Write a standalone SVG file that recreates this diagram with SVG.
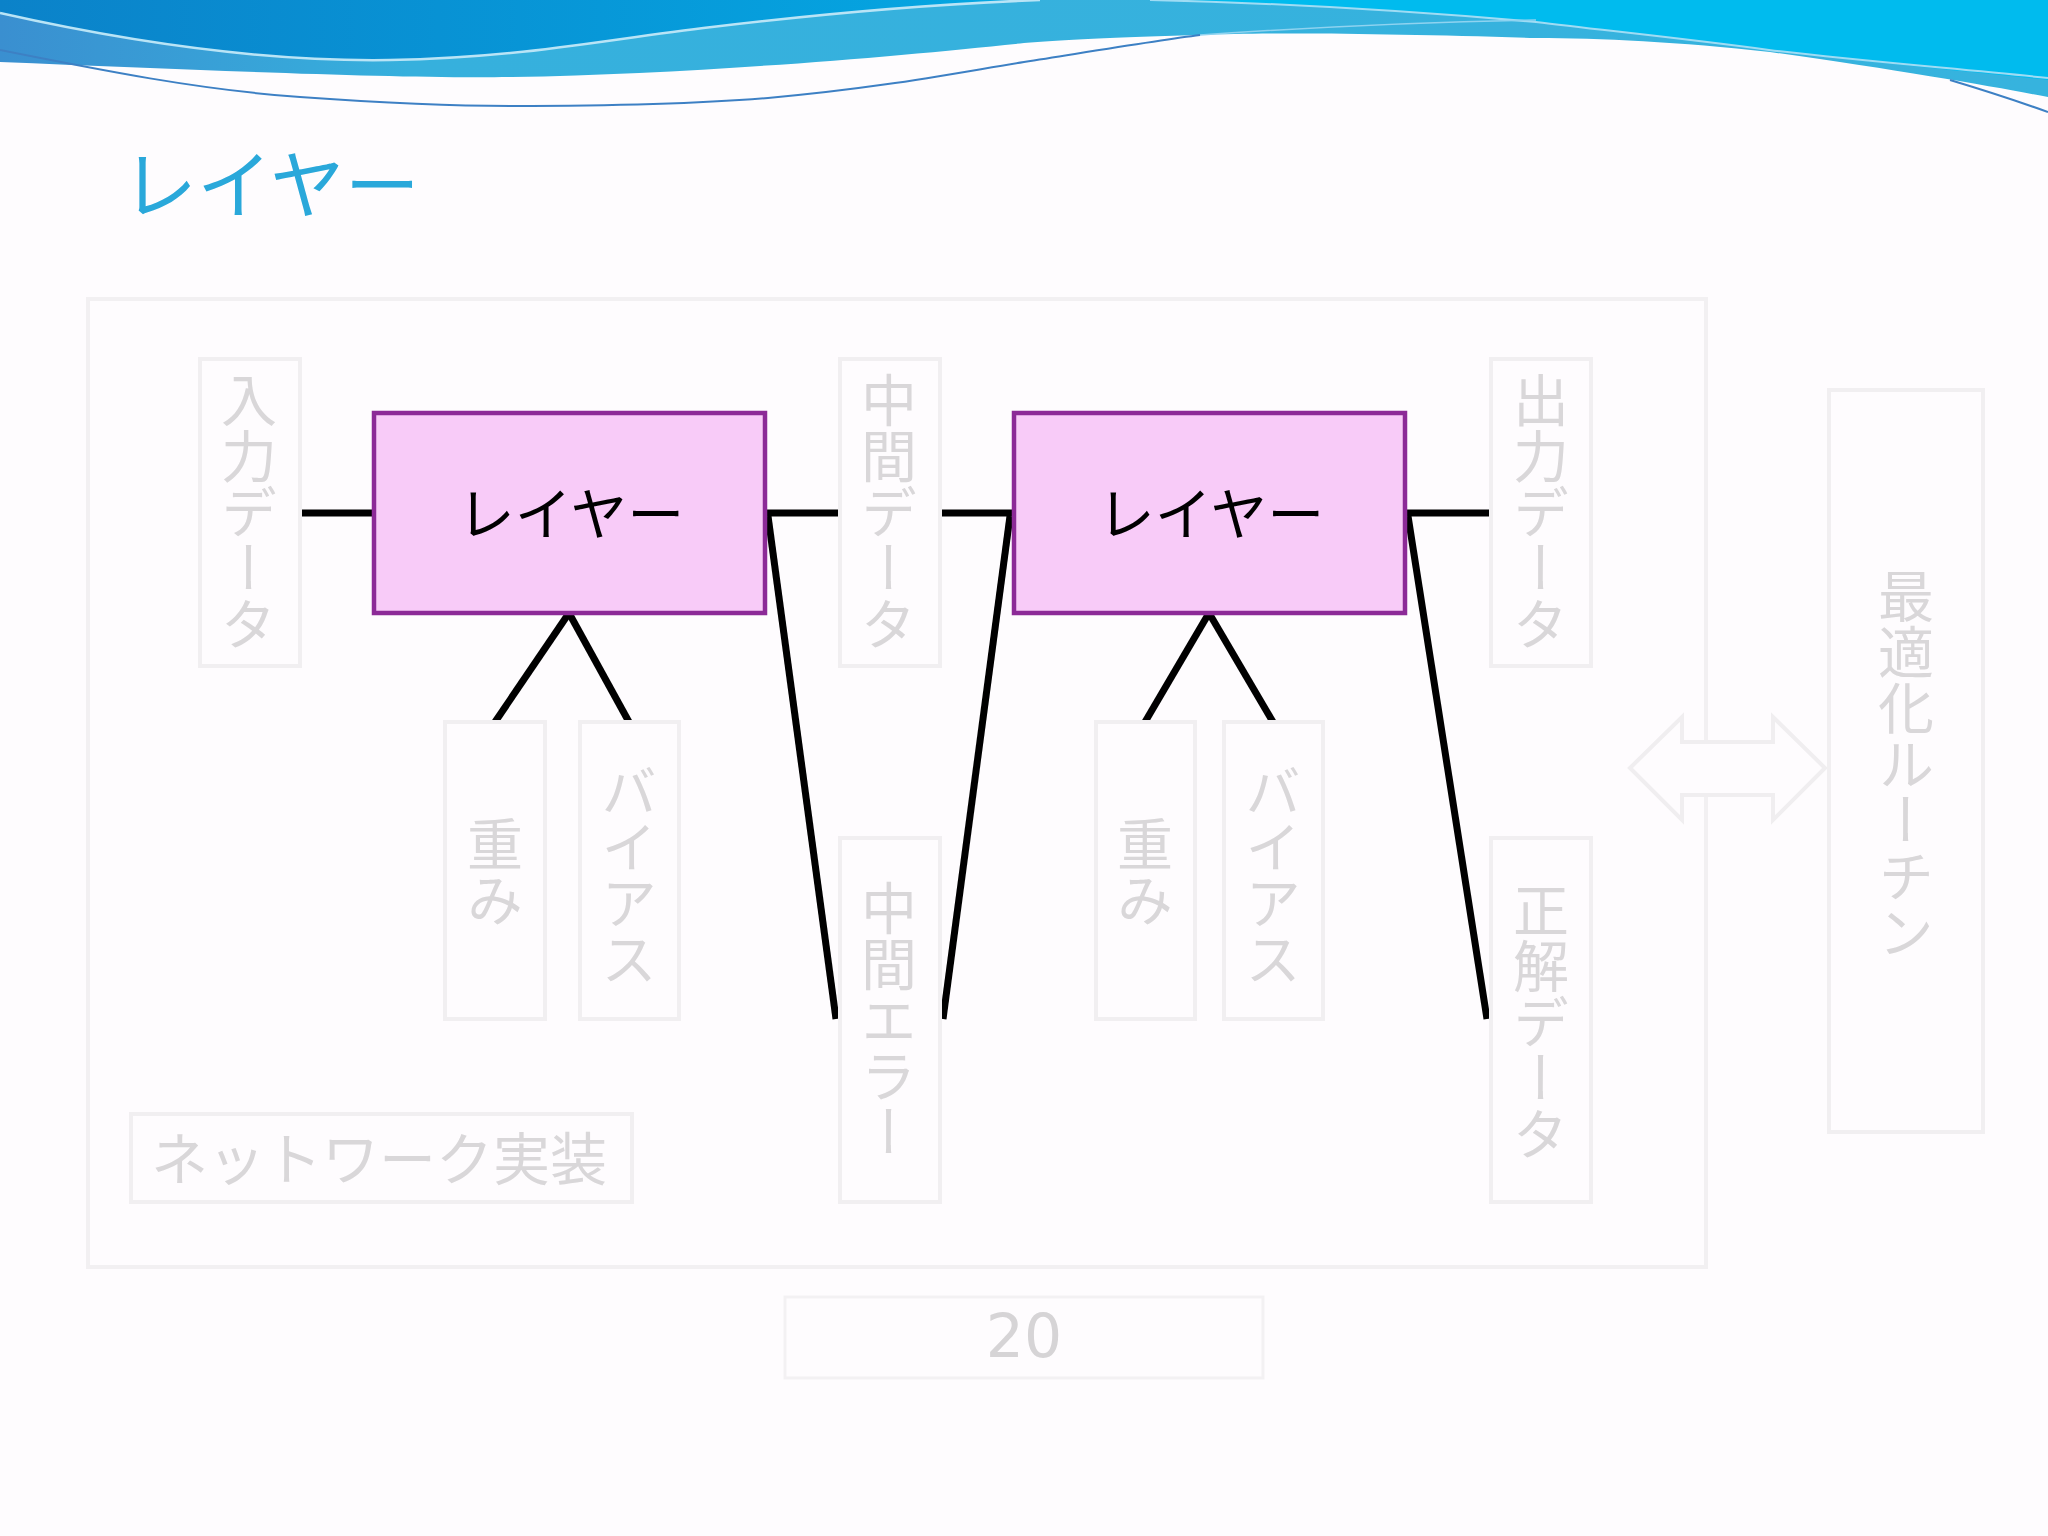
<svg xmlns="http://www.w3.org/2000/svg" width="2048" height="1536" viewBox="0 0 2048 1536">
<defs>
<linearGradient id="gDark" x1="0" y1="0" x2="1" y2="0">
<stop offset="0" stop-color="#0b82c9"/>
<stop offset="1" stop-color="#04a8e3"/>
</linearGradient>
<linearGradient id="gBand" x1="0" y1="0" x2="1" y2="0">
<stop offset="0" stop-color="#3a8fd0"/>
<stop offset="0.2" stop-color="#36b0dd"/>
<stop offset="1" stop-color="#36b3de"/>
</linearGradient>
<style>
.faint{fill:#fefcfe;stroke:#f1eff1;stroke-width:4}
.ftxt{font-family:"Noto Sans CJK JP","Noto Sans",sans-serif;font-size:56px;fill:#d9d7d9}
.vt{writing-mode:vertical-rl;text-anchor:middle}
.layer{fill:#f8cbf8;stroke:#8c2a97;stroke-width:4.5}
.ltxt{font-family:"Noto Sans CJK JP","Noto Sans",sans-serif;font-size:57px;fill:#000;text-anchor:middle}
.conn{stroke:#000;stroke-width:7;fill:none}
</style>
</defs>
<rect width="2048" height="1536" fill="#fefcfe"/>
<g id="header">
<path d="M0,0 H2048 V97 C2000,88 1900,70 1770,52 C1680,42 1600,38 1536,38 C1400,34 1280,32 1200,35 C1100,38 1060,40 1024,43 C900,56 700,74 512,77 C400,79 200,70 0,62 Z" fill="url(#gBand)"/>
<path d="M0,0 L1040,0 C930,4 820,14 712,27 C600,40 520,58 390,60 C260,62 120,40 0,13 Z" fill="url(#gDark)"/>
<path d="M1150,0 L2048,0 L2048,80 C1950,70 1850,60 1769,50 C1680,38 1600,30 1536,22 C1400,10 1280,3 1150,0 Z" fill="#00bbee"/>
<path d="M0,13 C120,40 260,62 390,60 C520,58 600,40 712,27 C820,14 930,4 1040,0" fill="none" stroke="#b9e4f6" stroke-width="2.5"/>
<path d="M1150,0 C1280,3 1400,10 1536,22 C1600,30 1680,38 1769,50 C1850,60 1950,68 2048,78" fill="none" stroke="#9fdcf4" stroke-width="2"/>
<path d="M1200,35 C1300,28 1420,22 1536,20" fill="none" stroke="#8fd3f0" stroke-width="1.5"/>
<path d="M0,50 C100,70 200,90 300,97 C400,104 460,106 512,106 C650,106 720,102 768,98 C880,88 950,74 1024,62 C1100,50 1160,40 1200,35" fill="none" stroke="#3d80c4" stroke-width="2"/>
<path d="M1950,80 C1990,92 2020,102 2048,112" fill="none" stroke="#3d80c4" stroke-width="2"/>
</g>
<text id="title" x="122" y="213" font-family="'Noto Sans CJK JP','Noto Sans',sans-serif" font-size="75" fill="#2aa8da">レイヤー</text>
<g id="network">
<rect x="88" y="299" width="1618" height="968" fill="none" stroke="#f2f0f2" stroke-width="4"/>
</g>
<g id="netlabel">
<rect class="faint" x="131" y="1114" width="501" height="88"/>
<text x="379" y="1180" font-family="'Noto Sans CJK JP','Noto Sans',sans-serif" font-size="57" fill="#d9d7d9" text-anchor="middle">ネットワーク実装</text>
</g>
<g id="arrow">
<path d="M1630,768 L1682,717 L1682,742 L1773,742 L1773,717 L1825,768 L1773,820 L1773,795 L1682,795 L1682,820 Z" fill="#fefcfe" stroke="#f0eef0" stroke-width="4" stroke-linejoin="miter"/>
</g>
<g id="connectors">
<line class="conn" x1="300" y1="513" x2="374" y2="513"/>
<line class="conn" x1="765" y1="513" x2="840" y2="513"/>
<line class="conn" x1="940" y1="513" x2="1014" y2="513"/>
<line class="conn" x1="1405" y1="513" x2="1491" y2="513"/>
<line class="conn" x1="569" y1="613" x2="495" y2="722"/>
<line class="conn" x1="569" y1="613" x2="629" y2="722"/>
<line class="conn" x1="1209" y1="613" x2="1145" y2="722"/>
<line class="conn" x1="1209" y1="613" x2="1273" y2="722"/>
<line class="conn" x1="768" y1="516" x2="836" y2="1019"/>
<line class="conn" x1="943" y1="1019" x2="1010" y2="516"/>
<line class="conn" x1="1408" y1="516" x2="1487" y2="1019"/>
</g>
<g id="layer1">
<rect class="layer" x="374" y="413" width="391" height="200"/>
<text class="ltxt" x="571" y="535">レイヤー</text>
</g>
<g id="layer2">
<rect class="layer" x="1014" y="413" width="391" height="200"/>
<text class="ltxt" x="1211" y="535">レイヤー</text>
</g>
<g id="input">
<rect class="faint" x="200" y="359" width="100" height="307"/>
<text class="ftxt vt" x="249" y="512">入力データ</text>
</g>
<g id="middata">
<rect class="faint" x="840" y="359" width="100" height="307"/>
<text class="ftxt vt" x="889" y="512">中間データ</text>
</g>
<g id="output">
<rect class="faint" x="1491" y="359" width="100" height="307"/>
<text class="ftxt vt" x="1541" y="512">出力データ</text>
</g>
<g id="weight1">
<rect class="faint" x="445" y="722" width="100" height="297"/>
<text class="ftxt vt" x="495" y="872">重み</text>
</g>
<g id="bias1">
<rect class="faint" x="580" y="722" width="99" height="297"/>
<text class="ftxt vt" x="629" y="875">バイアス</text>
</g>
<g id="weight2">
<rect class="faint" x="1096" y="722" width="99" height="297"/>
<text class="ftxt vt" x="1145" y="872">重み</text>
</g>
<g id="bias2">
<rect class="faint" x="1224" y="722" width="99" height="297"/>
<text class="ftxt vt" x="1273" y="875">バイアス</text>
</g>
<g id="miderror">
<rect class="faint" x="840" y="838" width="100" height="364"/>
<text class="ftxt vt" x="889" y="1020">中間エラー</text>
</g>
<g id="truth">
<rect class="faint" x="1491" y="838" width="100" height="364"/>
<text class="ftxt vt" x="1541" y="1022">正解データ</text>
</g>
<g id="optimizer">
<rect class="faint" x="1829" y="390" width="154" height="742"/>
<text class="ftxt vt" x="1906" y="764">最適化ルーチン</text>
</g>
<g id="page">
<rect x="785" y="1297" width="478" height="81" fill="#fefcfe" stroke="#f3f1f3" stroke-width="3"/>
<text x="1024" y="1357" font-family="'DejaVu Sans',sans-serif" font-size="60" fill="#d6d4d6" text-anchor="middle">20</text>
</g>
</svg>
